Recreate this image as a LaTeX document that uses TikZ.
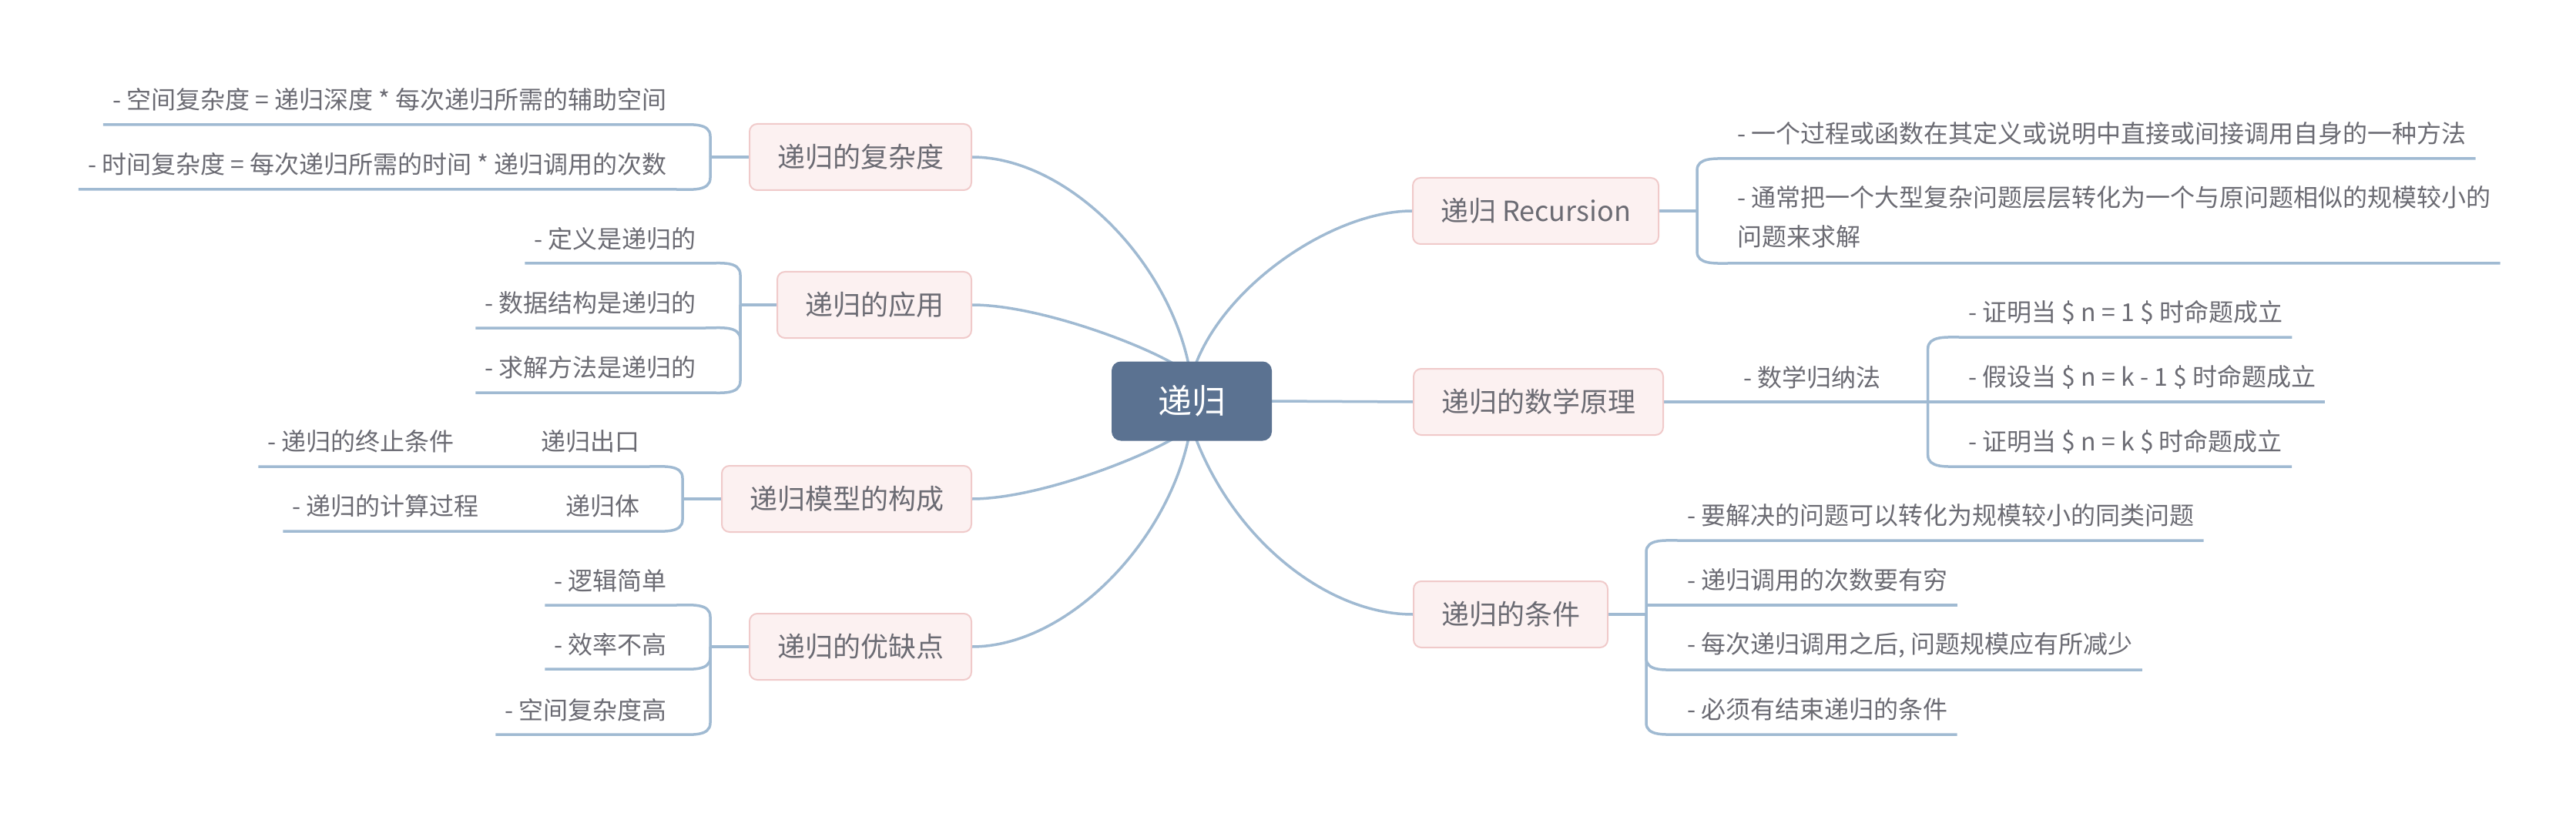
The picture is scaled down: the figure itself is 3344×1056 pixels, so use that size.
\documentclass[tikz,border=0pt]{standalone}
\usepackage{fontspec}
\setmainfont{Noto Sans CJK SC}
\usepackage{tikz}
\usetikzlibrary{positioning, calc, backgrounds}
\definecolor{rootblue}{HTML}{5B7291}
\definecolor{twigblue}{HTML}{A0BAD2}
\definecolor{pinkfill}{HTML}{FCF1F1}
\definecolor{pinkline}{HTML}{F0CACA}
\definecolor{inkgray}{HTML}{6B6B73}
\tikzset{
    root/.style = {rectangle, rounded corners=12pt, fill=rootblue, text=white,
                   minimum width=208pt, minimum height=103pt,
                   font=\fontsize{44pt}{50pt}\selectfont},
    branch/.style = {rectangle, rounded corners=10pt, draw=pinkline, fill=pinkfill,
                     line width=2pt, text=inkgray, inner xsep=36pt, inner ysep=0pt,
                     minimum height=86pt, font=\fontsize{36pt}{42pt}\selectfont},
    leaf/.style = {inner xsep=12pt, inner ysep=0pt, minimum height=64pt,
                   text=inkgray, align=left, font=\fontsize{32pt}{51pt}\selectfont},
    twig/.style = {line width=3.5pt, color=twigblue},
}

\begin{document}
\begin{tikzpicture}[x=1pt, y=1pt]
        \useasboundingbox (0,0) rectangle (3344,-1056);
        % centre
        \node[root] (root) at (1547,-521) {递归};
        % main branches
        \node[branch, anchor=east] (cplx) at (1262,-204) {递归的复杂度};
        \node[branch, anchor=east] (app) at (1262,-396) {递归的应用};
        \node[branch, anchor=east] (model) at (1262,-648) {递归模型的构成};
        \node[branch, anchor=east] (pros) at (1262,-840) {递归的优缺点};
        \node[branch, anchor=west] (rec) at (1833,-274) {递归 Recursion};
        \node[branch, anchor=west] (math) at (1834,-522) {递归的数学原理};
        \node[branch, anchor=west] (cond) at (1834,-798) {递归的条件};
        % junctions
        \coordinate[left=50pt of cplx] (cplx-j);
        \coordinate[left=47pt of app] (app-j);
        \coordinate[left=50pt of model] (model-j);
        \coordinate[left=50pt of pros] (pros-j);
        \coordinate[right=49pt of rec] (rec-j);
        \coordinate[right=49pt of cond] (cond-j);
        % left leaves
        \node[leaf, anchor=south east] (cplx-1) at (878,-162) {- 空间复杂度 = 递归深度 * 每次递归所需的辅助空间};
        \node[leaf, anchor=south east] (cplx-2) at (878,-246) {- 时间复杂度 = 每次递归所需的时间 * 递归调用的次数};
        \node[leaf, anchor=south east] (app-1) at (916,-342) {- 定义是递归的};
        \node[leaf, anchor=south east] (app-2) at (916,-426) {- 数据结构是递归的};
        \node[leaf, anchor=south east] (app-3) at (916,-510) {- 求解方法是递归的};
        \node[leaf, anchor=south east] (exit) at (843,-606) {递归出口};
        \node[leaf, anchor=south east] (stop) at (602,-606) {- 递归的终止条件};
        \node[leaf, anchor=south east] (body) at (843,-690) {递归体};
        \node[leaf, anchor=south east] (steps) at (634,-690) {- 递归的计算过程};
        \node[leaf, anchor=south east] (pros-1) at (878,-786) {- 逻辑简单};
        \node[leaf, anchor=south east] (pros-2) at (878,-869) {- 效率不高};
        \node[leaf, anchor=south east] (pros-3) at (878,-954) {- 空间复杂度高};
        % right leaves
        \node[leaf, anchor=south west] (rec-1) at (2243,-206) {- 一个过程或函数在其定义或说明中直接或间接调用自身的一种方法};
        \node[leaf, anchor=south west, minimum height=119pt] (rec-2) at (2243,-342)
              {- 通常把一个大型复杂问题层层转化为一个与原问题相似的规模较小的\\问题来求解};
        \node[leaf, anchor=south west] (induct) at (2251,-522) {- 数学归纳法};
        \coordinate (induct-j) at ($(induct.south east)+(49,0)$);
        \node[leaf, anchor=south west] (induct-1) at (2543,-438) {- 证明当 \$ n = 1 \$ 时命题成立};
        \node[leaf, anchor=south west] (induct-2) at (2543,-522) {- 假设当 \$ n = k - 1 \$ 时命题成立};
        \node[leaf, anchor=south west] (induct-3) at (2543,-606) {- 证明当 \$ n = k \$ 时命题成立};
        \node[leaf, anchor=south west] (cond-1) at (2178,-702) {- 要解决的问题可以转化为规模较小的同类问题};
        \node[leaf, anchor=south west] (cond-2) at (2178,-786) {- 递归调用的次数要有穷};
        \node[leaf, anchor=south west] (cond-3) at (2178,-870) {- 每次递归调用之后, 问题规模应有所减少};
        \node[leaf, anchor=south west] (cond-4) at (2178,-954) {- 必须有结束递归的条件};

        \begin{scope}[on background layer]
        % curves from the centre
        \draw[twig] ($(root.north)+(-4,-4)$) .. controls +(102:144) and +(0:120) .. (cplx.east);
        \draw[twig] ($(root.north)+(-22,-4)$) .. controls +(150:63) and +(0:80) .. (app.east);
        \draw[twig] ($(root.south)+(-22,4)$) .. controls +(210:63) and +(0:80) .. (model.east);
        \draw[twig] ($(root.south)+(-4,4)$) .. controls +(258:144) and +(0:120) .. (pros.east);
        \draw[twig] ($(root.north)+(5,-4)$) .. controls +(69:114) and +(180:100) .. (rec.west);
        \draw[twig] ($(root.south)+(5,4)$) .. controls +(291:144) and +(180:110) .. (cond.west);
        \draw[twig] (root.east) -- (math.west);
        % 递归的复杂度
        \draw[twig] (cplx.west) -- (cplx-j);
        \draw[twig] (cplx-j) -- ($(cplx-j |- cplx-1.south)+(0,-15)$) to[out=90, in=0] (cplx-1.south east) -- (cplx-1.south west);
        \draw[twig] (cplx-j) -- ($(cplx-j |- cplx-2.south)+(0,15)$) to[out=-90, in=0] (cplx-2.south east) -- (cplx-2.south west);
        % 递归的应用
        \draw[twig] (app.west) -- (app-j);
        \draw[twig] (app-j) -- ($(app-j |- app-1.south)+(0,-15)$) to[out=90, in=0] (app-1.south east) -- (app-1.south west);
        \draw[twig] (app-j) -- ($(app-j |- app-2.south)+(0,-15)$) to[out=90, in=0] (app-2.south east) -- (app-2.south west);
        \draw[twig] (app-j) -- ($(app-j |- app-3.south)+(0,15)$) to[out=-90, in=0] (app-3.south east) -- (app-3.south west);
        % 递归模型的构成
        \draw[twig] (model.west) -- (model-j);
        \draw[twig] (model-j) -- ($(model-j |- exit.south)+(0,-15)$) to[out=90, in=0] (exit.south east) -- (stop.south west);
        \draw[twig] (model-j) -- ($(model-j |- body.south)+(0,15)$) to[out=-90, in=0] (body.south east) -- (steps.south west);
        % 递归的优缺点
        \draw[twig] (pros.west) -- (pros-j);
        \draw[twig] (pros-j) -- ($(pros-j |- pros-1.south)+(0,-15)$) to[out=90, in=0] (pros-1.south east) -- (pros-1.south west);
        \draw[twig] (pros-j) -- ($(pros-j |- pros-2.south)+(0,15)$) to[out=-90, in=0] (pros-2.south east) -- (pros-2.south west);
        \draw[twig] (pros-j) -- ($(pros-j |- pros-3.south)+(0,15)$) to[out=-90, in=0] (pros-3.south east) -- (pros-3.south west);
        % 递归 Recursion
        \draw[twig] (rec.east) -- (rec-j);
        \draw[twig] (rec-j) -- ($(rec-j |- rec-1.south)+(0,-15)$) to[out=90, in=180] (rec-1.south west) -- (rec-1.south east);
        \draw[twig] (rec-j) -- ($(rec-j |- rec-2.south)+(0,15)$) to[out=-90, in=180] (rec-2.south west) -- (rec-2.south east);
        % 递归的数学原理
        \draw[twig] (math.east) -- (induct.south west) -- (induct-j);
        \draw[twig] (induct-j) -- ($(induct-j |- induct-1.south)+(0,-15)$) to[out=90, in=180] (induct-1.south west) -- (induct-1.south east);
        \draw[twig] (induct-j) -- (induct-2.south east);
        \draw[twig] (induct-j) -- ($(induct-j |- induct-3.south)+(0,15)$) to[out=-90, in=180] (induct-3.south west) -- (induct-3.south east);
        % 递归的条件
        \draw[twig] (cond.east) -- (cond-j);
        \draw[twig] (cond-j) -- ($(cond-j |- cond-1.south)+(0,-15)$) to[out=90, in=180] (cond-1.south west) -- (cond-1.south east);
        \draw[twig] (cond-j |- cond-2.south) -- (cond-2.south east);
        \draw[twig] (cond-j) -- ($(cond-j |- cond-3.south)+(0,15)$) to[out=-90, in=180] (cond-3.south west) -- (cond-3.south east);
        \draw[twig] (cond-j) -- ($(cond-j |- cond-4.south)+(0,15)$) to[out=-90, in=180] (cond-4.south west) -- (cond-4.south east);
        \end{scope}
      \end{tikzpicture}
\end{document}
